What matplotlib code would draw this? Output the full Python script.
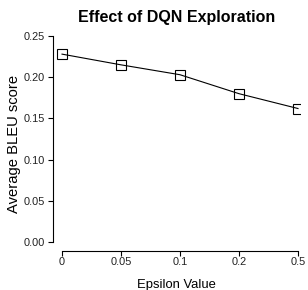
import matplotlib
matplotlib.use("Agg")
import matplotlib.pyplot as plt

plt.rcParams['font.family'] = ['Liberation Sans', 'DejaVu Sans']

epsilon_labels = ['0', '0.05', '0.1', '0.2', '0.5']
bleu_scores = [0.228, 0.215, 0.203, 0.180, 0.162]
y_ticks = [0.00, 0.05, 0.10, 0.15, 0.20, 0.25]

fig = plt.figure(figsize=(3.08, 2.90), dpi=100)
# axes box in pixels: left 53, right 300, top 36, bottom 251
ax = fig.add_axes([53 / 308, 1 - 251 / 290, 247 / 308, 215 / 290])

x = list(range(len(epsilon_labels)))
ax.plot(x, bleu_scores, color='black', linewidth=0.8, marker='s',
        markersize=6.5, markerfacecolor='none', markeredgecolor='black',
        markeredgewidth=0.8)

ax.set_xlim(-0.153, 4.034)
ax.set_ylim(-0.0109, 0.25)
ax.set_xticks(x)
ax.set_xticklabels(epsilon_labels)
ax.set_yticks(y_ticks)
ax.set_yticklabels(['%.2f' % v for v in y_ticks])

for side in ['top', 'right']:
    ax.spines[side].set_visible(False)
ax.spines['left'].set_bounds(0, 0.25)
ax.spines['bottom'].set_bounds(0, 4)
ax.spines['left'].set_linewidth(0.8)
ax.spines['bottom'].set_linewidth(0.8)

ax.tick_params(axis='both', labelsize=7.9, length=3.5, width=0.8,
               colors='black', labelcolor='#222222')
ax.tick_params(axis='x', pad=0.5)
ax.tick_params(axis='y', pad=2)

ax.set_xlabel('Epsilon Value', fontsize=9.4, labelpad=9)
ax.set_ylabel('Average BLEU score', fontsize=10.6, labelpad=2)
ax.set_title('Effect of DQN Exploration', fontsize=11.5, fontweight='bold', pad=10)

fig.savefig('out.png', dpi=100)
